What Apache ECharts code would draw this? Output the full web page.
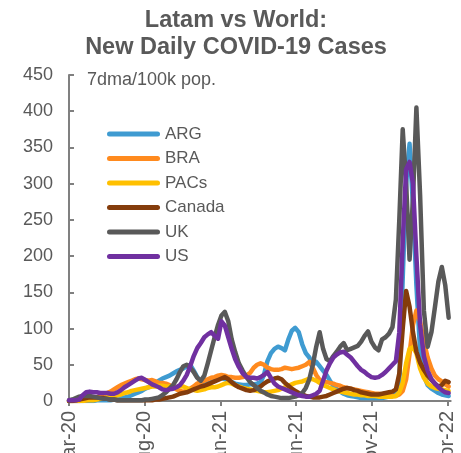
<!DOCTYPE html>
<html>
<head>
<meta charset="utf-8">
<script src="https://cdn.jsdelivr.net/npm/echarts@6/dist/echarts.min.js"></script>
<style>
  html, body { margin: 0; padding: 0; background: #ffffff; }
  #chart { width: 461px; height: 453px; }
</style>
</head>
<body>
<div id="chart"></div>
<script>
// Weekly observations, 7-day moving average of new cases per 100k population,
// starting on the first Sunday of March 2020.
const firstWeek = { year: 2020, month: 2, day: 1 };

const seriesNames = ['ARG', 'BRA', 'PACs', 'Canada', 'UK', 'US'];

const arg = [
  0, 0, 0, 0, 0, 0, 0, 0, 1, 1,
  1, 1, 1, 2, 3, 4, 5, 6, 8, 10,
  12, 14, 17, 19, 22, 25, 28, 31, 33, 35,
  38, 41, 43, 45, 48, 50, 42, 33, 27, 25,
  24, 26, 28, 31, 32, 30, 28, 26, 24, 23,
  22, 22, 23, 23, 24, 26, 36, 55, 66, 72,
  75, 73, 70, 85, 97, 101, 95, 78, 66, 60,
  50, 54, 48, 42, 36, 28, 21, 16, 13, 10,
  8, 7, 6, 5, 4, 4, 4, 4, 4, 4,
  4, 5, 6, 7, 9, 25, 170, 300, 355, 270,
  160, 70, 35, 22, 17, 14, 11, 9, 8, 7
];

const bra = [
  0, 0, 0, 0, 1, 1, 2, 3, 5, 7,
  9, 11, 13, 16, 19, 22, 24, 26, 28, 30,
  31, 30, 29, 28, 29, 27, 25, 25, 24, 22,
  19, 16, 14, 13, 14, 17, 20, 24, 26, 28,
  30, 32, 33, 35, 36, 35, 33, 33, 32, 32,
  33, 35, 39, 46, 50, 52, 50, 46, 44, 43,
  43, 44, 46, 45, 44, 45, 46, 48, 50, 54,
  46, 36, 29, 27, 26, 25, 24, 22, 21, 19,
  18, 17, 16, 15, 14, 13, 12, 11, 10, 10,
  9, 8, 7, 7, 7, 9, 14, 30, 65, 105,
  125, 110, 82, 60, 45, 35, 30, 27, 23, 20
];

const pacs = [
  0, 0, 0, 0, 0, 1, 1, 1, 2, 3,
  4, 5, 6, 7, 8, 9, 11, 12, 14, 15,
  16, 17, 18, 19, 20, 20, 21, 21, 20, 20,
  19, 19, 20, 20, 18, 16, 15, 14, 15, 16,
  18, 19, 19, 20, 22, 24, 25, 24, 22, 20,
  18, 17, 16, 15, 14, 13, 12, 12, 13, 14,
  15, 17, 19, 21, 23, 25, 26, 27, 29, 31,
  30, 28, 25, 22, 20, 18, 16, 14, 13, 12,
  11, 10, 9, 9, 8, 8, 7, 7, 7, 6,
  6, 6, 6, 6, 7, 12, 25, 52, 72, 74,
  66, 45, 32, 24, 20, 18, 17, 16, 15, 14
];

const canada = [
  0, 0, 1, 2, 3, 4, 5, 5, 5, 4,
  4, 3, 2, 2, 1, 1, 1, 1, 1, 1,
  1, 1, 1, 1, 1, 2, 2, 3, 4, 5,
  6, 8, 10, 11, 12, 14, 16, 18, 20, 21,
  23, 25, 27, 29, 31, 33, 30, 26, 22, 19,
  17, 15, 14, 15, 17, 20, 24, 27, 29, 31,
  32, 30, 25, 21, 17, 14, 11, 9, 7, 6,
  5, 5, 5, 6, 7, 9, 11, 13, 15, 17,
  18, 17, 15, 14, 12, 11, 10, 9, 9, 9,
  10, 11, 12, 13, 16, 38, 100, 152, 130, 95,
  68, 53, 43, 35, 29, 24, 20, 22, 28, 26
];

const uk = [
  1, 2, 4, 6, 7, 7, 7, 6, 5, 4,
  3, 3, 2, 2, 1, 1, 1, 1, 1, 1,
  1, 1, 2, 2, 3, 4, 5, 8, 12, 17,
  22, 30, 40, 48, 50, 46, 40, 32, 28, 35,
  52, 70, 88, 105, 118, 123, 110, 85, 68, 52,
  42, 33, 26, 22, 18, 14, 12, 9, 7, 6,
  5, 4, 4, 4, 5, 6, 8, 11, 18, 30,
  50, 75, 95, 72, 58, 55, 62, 68, 75, 80,
  70, 72, 74, 76, 82, 90, 96, 82, 74, 70,
  85, 88, 93, 102, 140, 250, 375, 300, 195, 280,
  405, 285, 125, 75, 95, 130, 165, 185, 160, 115
];

const us = [
  1, 1, 1, 2, 8, 12, 13, 12, 12, 11,
  11, 11, 10, 10, 12, 15, 19, 22, 25, 28,
  31, 32, 29, 26, 23, 21, 19, 16, 15, 16,
  17, 19, 22, 28, 36, 48, 62, 73, 80, 88,
  92, 95, 90, 86, 110, 104, 88, 72, 58, 47,
  38, 33, 32, 32, 31, 33, 36, 40, 32, 24,
  20, 18, 16, 14, 12, 10, 8, 7, 6, 6,
  8, 10, 14, 28, 42, 52, 60, 64, 67, 68,
  64, 60, 54, 48, 43, 40, 36, 33, 32, 33,
  36, 40, 45, 50, 55, 95, 220, 320, 330, 300,
  200, 105, 62, 42, 30, 24, 19, 15, 12, 11
];

// x-axis: months elapsed since March 2020, labelled every five months
const tickMonths = [0, 5, 10, 15, 20, 25];
const tickLabels = ['Mar-20', 'Aug-20', 'Jan-21', 'Jun-21', 'Nov-21', 'Apr-22'];

const yTicks = { min: 0, max: 450, step: 50 };

const palette = ['#3F9BD1', '#FF8A1E', '#FFC000', '#843C0C', '#595959', '#7030A0'];
const textGrey = '#595959';
const axisGrey = '#808080';
const fontFamily = 'Liberation Sans, Arial, sans-serif';

// Convert a week index into fractional months since 1 Mar 2020
function monthsSinceStart(weekIndex) {
  const d = new Date(Date.UTC(firstWeek.year, firstWeek.month, firstWeek.day + 7 * weekIndex));
  const y = d.getUTCFullYear();
  const m = d.getUTCMonth();
  const daysInMonth = new Date(Date.UTC(y, m + 1, 0)).getUTCDate();
  return (y - firstWeek.year) * 12 + (m - firstWeek.month) + (d.getUTCDate() - 1) / daysInMonth;
}

function toPoints(values) {
  return values.map((v, i) => [monthsSinceStart(i), v]);
}

const allValues = [arg, bra, pacs, canada, uk, us];

const legendIcon = 'path://M2.5,0H50.5A2.5,2.5,0,0,1,50.5,5H2.5A2.5,2.5,0,0,1,2.5,0Z';

const chart = echarts.init(document.getElementById('chart'), null, { renderer: 'canvas' });

chart.setOption({
  animation: false,
  backgroundColor: '#ffffff',
  color: palette,
  title: [
    {
      text: 'Latam vs World:\nNew Daily COVID-19 Cases',
      left: 236,
      top: 7.5,
      textAlign: 'center',
      padding: 0,
      textStyle: {
        fontFamily: fontFamily,
        fontSize: 23.5,
        fontWeight: 'bold',
        color: textGrey,
        lineHeight: 27
      }
    },
    {
      text: '7dma/100k pop.',
      left: 87,
      top: 71,
      padding: 0,
      textStyle: {
        fontFamily: fontFamily,
        fontSize: 18,
        fontWeight: 'normal',
        color: textGrey
      }
    }
  ],
  legend: {
    orient: 'vertical',
    left: 107,
    top: 125,
    padding: 0,
    itemGap: 6.5,
    itemWidth: 53,
    itemHeight: 5,
    icon: legendIcon,
    data: seriesNames,
    textStyle: {
      fontFamily: fontFamily,
      fontSize: 17,
      color: textGrey,
      lineHeight: 18
    }
  },
  grid: {
    left: 69,
    right: 10.3,
    top: 75,
    bottom: 52,
    outerBoundsMode: 'none'
  },
  xAxis: {
    type: 'value',
    min: 0,
    max: 25.2,
    splitLine: { show: false },
    axisLine: { show: true, lineStyle: { color: axisGrey, width: 2 } },
    axisTick: {
      show: true,
      length: 5,
      customValues: tickMonths,
      lineStyle: { color: axisGrey, width: 2 }
    },
    axisLabel: {
      customValues: tickMonths,
      rotate: 90,
      margin: 10,
      fontFamily: fontFamily,
      fontSize: 20,
      color: textGrey,
      formatter: function (v) {
        const k = tickMonths.indexOf(Math.round(v));
        return k >= 0 ? tickLabels[k] : '';
      }
    }
  },
  yAxis: {
    type: 'value',
    min: yTicks.min,
    max: yTicks.max,
    interval: yTicks.step,
    splitLine: { show: false },
    axisLine: { show: true, lineStyle: { color: axisGrey, width: 2 } },
    axisTick: { show: true, inside: true, length: 5, lineStyle: { color: axisGrey, width: 2 } },
    axisLabel: {
      margin: 16,
      fontFamily: fontFamily,
      fontSize: 18,
      color: textGrey
    }
  },
  series: seriesNames.map((name, k) => ({
    name: name,
    type: 'line',
    data: toPoints(allValues[k]),
    showSymbol: false,
    symbol: 'none',
    smooth: false,
    emphasis: { disabled: true },
    lineStyle: { width: 4.5, color: palette[k], cap: 'round', join: 'round' },
    itemStyle: { color: palette[k] },
    z: 2 + k
  }))
});
</script>
</body>
</html>
